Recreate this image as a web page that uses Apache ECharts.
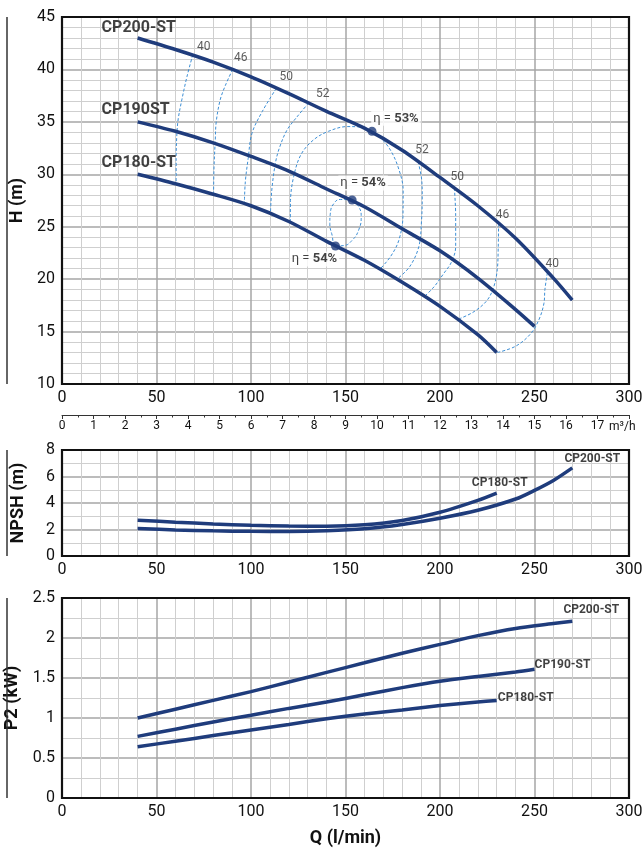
<!DOCTYPE html>
<html><head><meta charset="utf-8">
<script src="https://cdn.jsdelivr.net/npm/echarts/dist/echarts.min.js"></script>
<style>html,body{margin:0;padding:0;background:#fff}#c{width:643px;height:851px}</style>
</head><body><div id="c"></div>
<script>
// ---------- DATA ----------
const cp200Q = [40,60,80,100,120,140,160,180,200,220,240,260,270];
const cp200H = [43.0,41.9,40.7,39.3,37.7,36.0,34.4,32.3,29.7,27.0,23.9,20.1,18.0];
const cp190Q = [40,60,80,100,120,140,160,180,200,220,240,250];
const cp190H = [35.0,34.1,33.0,31.7,30.3,28.6,26.9,24.8,22.7,20.1,17.1,15.5];
const cp180Q = [40,60,80,100,120,140,160,180,200,220,230];
const cp180H = [30.0,29.1,28.1,27.0,25.5,23.6,21.8,19.7,17.4,14.7,13.0];
const headNames = ['CP200-ST','CP190ST','CP180-ST'];

const bepPoints = [[164,34.1],[153.5,27.55],[144.7,23.16]];
const bepValues = ['53%','54%','54%'];

const iso40L = [[69.2,41.4],[66.1,39.3],[63.4,37.1],[61.5,35.3],[60.8,33.9],[60.4,31.5],[60.4,29.2]];
const iso46L = [[90.3,40.0],[86.5,38.5],[83.7,37.1],[81.6,35.0],[81.1,33.3],[80.4,30.5],[80.2,28.1]];
const iso50L = [[113.4,38.2],[106,36.0],[100.5,33.9],[98.5,31.5],[97,29.3],[96.5,27.3]];
const iso52L = [[130.5,36.8],[124,35.4],[119,34.2],[115,32.5],[112.9,31.05],[111,28.5],[110.3,26.3]];
const iso53 = [[120.8,25.45],[120.9,27.5],[122.6,29.8],[126.5,31.9],[133.2,33.3],[141,34.1],[150.9,34.55],[158,34.5],[164,34.1],[168.5,33.5],[173.8,32.3],[178,30.6],[180.5,28.5],[180.4,26],[178.2,23.7],[174,22.2],[168.5,21.0]];
const iso52R = [[188.4,31.2],[190.3,29.5],[190.6,27.9],[190.2,25.5],[188.8,23.1],[184,21.2],[177.3,20.0]];
const iso50R = [[207.6,28.7],[208.3,26.0],[208.3,23.1],[206,21.6],[202,20.55],[197,19.3],[191.5,18.3]];
const iso46R = [[231,25.3],[230.8,23.0],[230.3,20.9],[228.5,19.3],[225,18.0],[218,16.9],[210,16.2]];
const iso40R = [[256.8,20.6],[255.5,19.0],[255,17.7],[252.5,16.2],[248,14.8],[240,13.6],[230.3,13.0]];
const loop54 = [[153.5,27.55],[147.3,27.6],[143.8,27.2],[142,26.3],[141.7,25.3],[142.9,24.2],[144.7,23.16],[149,23.2],[153.5,23.7],[157,24.7],[158.3,25.96],[157,26.9],[153.5,27.55]];
const isoLabelsLeft = ['40','46','50','52'];
const isoLabelsRight = ['52','50','46','40'];

const npsh180Q = [40,60,80,100,120,140,160,180,200,220,230];
const npsh180 = [2.7,2.55,2.42,2.32,2.26,2.25,2.35,2.68,3.3,4.2,4.75];
const npsh200Q = [40,60,80,100,120,140,160,180,200,220,240,250,260,270];
const npsh200 = [2.07,1.97,1.9,1.86,1.85,1.9,2.05,2.38,2.85,3.45,4.3,4.95,5.7,6.65];

const p2Q200 = [40,60,80,100,120,140,160,180,200,220,240,260,270];
const p2_200 = [1.0,1.11,1.22,1.33,1.45,1.57,1.69,1.81,1.92,2.03,2.12,2.18,2.21];
const p2Q190 = [40,60,80,100,120,140,160,180,200,220,240,250];
const p2_190 = [0.77,0.86,0.95,1.035,1.12,1.2,1.29,1.38,1.46,1.52,1.575,1.61];
const p2Q180 = [40,60,80,100,120,140,160,180,200,220,230];
const p2_180 = [0.64,0.71,0.78,0.85,0.92,0.99,1.05,1.1,1.155,1.2,1.22];

// ---------- STYLE ----------
const FONT = 'Roboto,"DejaVu Sans Condensed",sans-serif';
const NAVY = '#1f3c7c';
const ISO = '#3d8fd6';
const zip = (a,b) => a.map((v,i)=>[v,b[i]]);
const last = a => a[a.length-1];

const G = [
  {left:62, top:17, width:567, height:367, outerBoundsMode:'none', containLabel:false},
  {left:62, top:450, width:567, height:106, outerBoundsMode:'none', containLabel:false},
  {left:62, top:598, width:567, height:200, outerBoundsMode:'none', containLabel:false}
];

function xAx(gi, extra){
  return Object.assign({
    type:'value', gridIndex:gi, min:0, max:300, interval:50,
    axisLine:{show:false}, axisTick:{show:false},
    axisLabel:{fontFamily:FONT, fontSize:16, color:'#111', margin:6},
    splitLine:{show:true, lineStyle:{color:'#a6a6a6', width:1.5}},
    minorTick:{show:false, splitNumber:5},
    minorSplitLine:{show:true, lineStyle:{color:'#cfcfcf', width:1}}
  }, extra||{});
}
function yAx(gi, min, max, interval, split, name, extra){
  return Object.assign({
    type:'value', gridIndex:gi, min:min, max:max, interval:interval,
    axisLine:{show:false}, axisTick:{show:false},
    axisLabel:{fontFamily:FONT, fontSize:16, color:'#111', margin:7},
    splitLine:{show:true, lineStyle:{color:'#a6a6a6', width:1.5}},
    minorTick:{show:false, splitNumber:split},
    minorSplitLine:{show:true, lineStyle:{color:'#cfcfcf', width:1}},
    name:name, nameLocation:'middle', nameRotate:90, nameGap:35,
    nameTextStyle:{fontFamily:FONT, fontSize:18, fontWeight:'bold', color:'#111'}
  }, extra||{});
}

function curve(name, data, xi, yi){
  return {type:'line', name:name, xAxisIndex:xi, yAxisIndex:yi, data:data, smooth:0.3,
    showSymbol:false, lineStyle:{color:NAVY, width:3.5}, z:5, silent:true};
}
function isoLine(data){
  return {type:'line', xAxisIndex:0, yAxisIndex:0, data:data, smooth:0.35, showSymbol:false,
    lineStyle:{color:ISO, width:1, type:[3,2]}, z:3, silent:true};
}
function textSeries(xi, yi, items, fontSize, bold){
  return {type:'scatter', xAxisIndex:xi, yAxisIndex:yi, symbolSize:0, z:8, silent:true,
    data: items.map(it => ({value:it.p, label:{show:true, position:'inside', formatter:it.t,
      offset:it.o, align:it.a||'center', verticalAlign:'middle', fontFamily:FONT, fontSize:fontSize,
      fontWeight:bold?'bold':'normal', color:bold?'#111':'#333'}}))};
}

const isoL = [iso40L, iso46L, iso50L, iso52L];
const isoR = [iso52R, iso50R, iso46R, iso40R];
const leftOff = [[11,-8],[8,-11],[10,-11],[14,-9]];
const rightOff = [[4,-12],[3,-11],[4,-9],[5,-9]];

const series = [
  isoLine(iso40L), isoLine(iso46L), isoLine(iso50L), isoLine(iso52L), isoLine(iso53),
  isoLine(iso52R), isoLine(iso50R), isoLine(iso46R), isoLine(iso40R),
  Object.assign(isoLine(loop54), {smooth:0.5}),
  curve('CP200-ST', zip(cp200Q, cp200H), 0, 0),
  curve('CP190ST', zip(cp190Q, cp190H), 0, 0),
  curve('CP180-ST', zip(cp180Q, cp180H), 0, 0),
  {type:'scatter', xAxisIndex:0, yAxisIndex:0, symbolSize:9, z:9, silent:true,
    itemStyle:{color:NAVY},
    data: bepPoints.map((p,i)=>({value:p, label:{show:true, position:'inside',
      offset:[[24,-13],[11,-17],[-21,13]][i],
      formatter:'{n|η = }{b|'+bepValues[i]+'}', backgroundColor:'#fff', padding:[1,2],
      rich:{n:{fontFamily:FONT, fontSize:13, color:'#111'}, b:{fontFamily:FONT, fontSize:13, fontWeight:'bold', color:'#111'}}}}))},
  textSeries(0,0, isoL.map((l,i)=>({p:l[0], t:isoLabelsLeft[i], o:leftOff[i]})), 12, false),
  textSeries(0,0, isoR.map((l,i)=>({p:l[0], t:isoLabelsRight[i], o:rightOff[i]})), 12, false),
  textSeries(0,0, [
    {p:[cp200Q[0],cp200H[0]], t:headNames[0], o:[-36,-10], a:'left'},
    {p:[cp190Q[0],cp190H[0]], t:headNames[1], o:[-36,-12], a:'left'},
    {p:[cp180Q[0],cp180H[0]], t:headNames[2], o:[-36,-11], a:'left'}
  ], 16, true),
  curve('CP180-ST', zip(npsh180Q, npsh180), 2, 1),
  curve('CP200-ST', zip(npsh200Q, npsh200), 2, 1),
  textSeries(2,1, [
    {p:[last(npsh180Q), last(npsh180)], t:'CP180-ST', o:[3,-10]},
    {p:[last(npsh200Q), last(npsh200)], t:'CP200-ST', o:[20,-9]}
  ], 12, true),
  curve('CP200-ST', zip(p2Q200, p2_200), 3, 2),
  curve('CP190-ST', zip(p2Q190, p2_190), 3, 2),
  curve('CP180-ST', zip(p2Q180, p2_180), 3, 2),
  textSeries(3,2, [
    {p:[last(p2Q200), last(p2_200)], t:'CP200-ST', o:[19,-11]},
    {p:[last(p2Q190), last(p2_190)], t:'CP190-ST', o:[28,-4]},
    {p:[last(p2Q180), last(p2_180)], t:'CP180-ST', o:[29,-2]}
  ], 12, true)
];

const frames = G.map(g => ({type:'rect', z:100, silent:true,
  shape:{x:g.left, y:g.top, width:g.width, height:g.height},
  style:{fill:null, stroke:'#111', lineWidth:2.2}}));
const sideLines = G.map(g => ({type:'line', z:100, silent:true,
  shape:{x1:7, y1:g.top, x2:7, y2:g.top+g.height}, style:{stroke:'#333', lineWidth:1.5}}));

const option = {
  animation:false,
  backgroundColor:'#fff',
  grid: G,
  xAxis: [
    xAx(0),
    {type:'value', gridIndex:0, min:0, max:18, interval:1, position:'bottom', offset:31,
      axisLine:{show:true, lineStyle:{color:'#333', width:1}},
      axisTick:{show:true, length:4, lineStyle:{color:'#333'}},
      minorTick:{show:true, splitNumber:2, length:2.5, lineStyle:{color:'#333'}},
      splitLine:{show:false},
      axisLabel:{fontFamily:FONT, fontSize:12, color:'#111', margin:5,
        formatter: v => v===18 ? '' : String(v)}},
    xAx(1),
    xAx(2, {name:'Q (l/min)', nameLocation:'middle', nameGap:31,
      nameTextStyle:{fontFamily:FONT, fontSize:18, fontWeight:'bold', color:'#111'}})
  ],
  yAxis: [
    yAx(0, 10, 45, 5, 5, 'H (m)'),
    yAx(1, 0, 8, 2, 2, 'NPSH (m)'),
    yAx(2, 0, 2.5, 0.5, 2, 'P2 (kW)')
  ],
  graphic: frames.concat(sideLines, [
    {type:'text', z:100, silent:true, left:609, top:421,
      style:{text:'m³/h', fontFamily:FONT, fontSize:12, fill:'#111'}}
  ]),
  series: series
};

const chart = echarts.init(document.getElementById('c'), null, {renderer:'canvas'});
chart.setOption(option);
</script></body></html>
